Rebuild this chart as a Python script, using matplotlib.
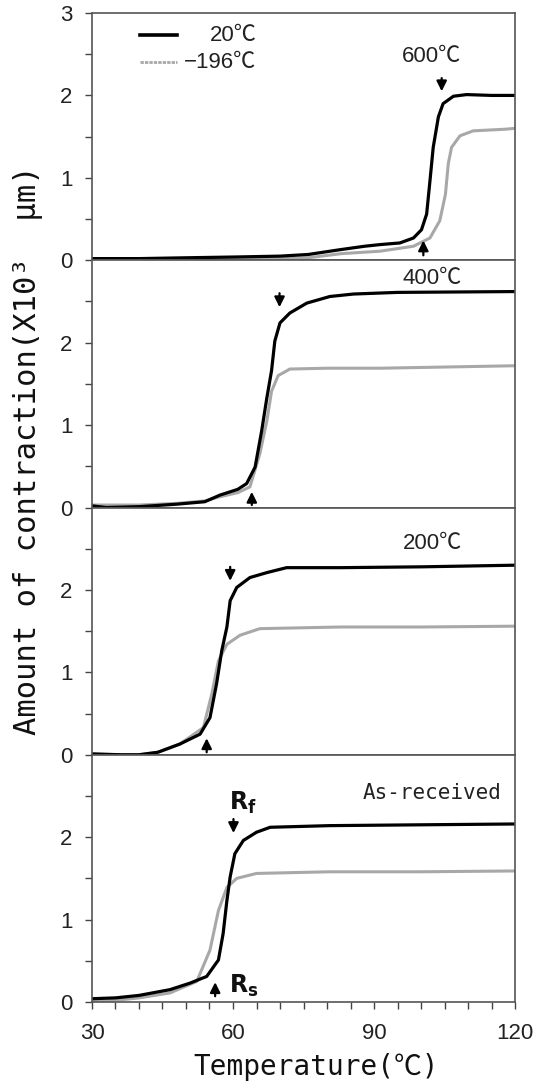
import matplotlib
matplotlib.use("Agg")
import matplotlib.pyplot as plt
import numpy as np

# ---- data (temperature in degC, contraction in x10^3 um) ----
panel_labels = ["600℃", "400℃", "200℃", "As-received"]
legend_labels = ["20℃", "−196℃"]

# Panel 1: 600C
p1_black_t = [30, 40, 50, 61, 70, 76, 83, 88, 91.3, 95.5, 98.4, 100.1, 101.2, 101.9, 102.6, 103.7, 104.7, 106.9, 109.7, 115, 120]
p1_black_y = [0.02, 0.02, 0.03, 0.04, 0.05, 0.07, 0.13, 0.17, 0.19, 0.21, 0.27, 0.37, 0.56, 0.96, 1.37, 1.74, 1.90, 1.99, 2.01, 2.0, 2.0]
p1_grey_t = [30, 45, 60, 70, 76, 83, 91.3, 98.4, 101.9, 104.0, 105.2, 105.8, 106.5, 108.3, 111.1, 117.9, 120]
p1_grey_y = [0.01, 0.01, 0.01, 0.02, 0.03, 0.08, 0.11, 0.17, 0.27, 0.48, 0.80, 1.17, 1.37, 1.51, 1.57, 1.59, 1.60]

# Panel 2: 400C
p2_black_t = [30, 33, 40, 48, 54, 57.2, 61, 62.9, 64.7, 66.1, 67.2, 68.2, 68.9, 70.0, 72.1, 75.7, 80.6, 85.6, 95, 120]
p2_black_y = [0.02, 0.0, 0.01, 0.04, 0.07, 0.15, 0.22, 0.29, 0.49, 0.93, 1.33, 1.66, 2.02, 2.24, 2.36, 2.48, 2.56, 2.59, 2.61, 2.62]
p2_grey_t = [30, 40, 48, 54, 57.2, 61, 63.6, 65.7, 67.2, 68.2, 69.6, 72.1, 80, 91.3, 120]
p2_grey_y = [0.03, 0.03, 0.05, 0.08, 0.13, 0.18, 0.25, 0.65, 1.05, 1.41, 1.60, 1.68, 1.69, 1.69, 1.72]

# Panel 3: 200C
p3_black_t = [30, 36, 40, 44, 48.7, 53.0, 55.1, 56.5, 57.6, 58.7, 59.4, 60.8, 63.6, 67.2, 71.4, 82.8, 100, 120]
p3_black_y = [0.01, 0.0, 0.0, 0.03, 0.13, 0.25, 0.45, 0.86, 1.26, 1.55, 1.87, 2.03, 2.15, 2.21, 2.27, 2.27, 2.28, 2.30]
p3_grey_t = [30, 36, 40, 44, 48.7, 53.7, 55.5, 56.9, 58.7, 61.5, 65.7, 82.8, 100, 120]
p3_grey_y = [0.01, 0.0, 0.0, 0.03, 0.13, 0.33, 0.74, 1.14, 1.34, 1.45, 1.53, 1.55, 1.55, 1.56]

# Panel 4: As-received
p4_black_t = [30, 35, 40, 46.6, 50.9, 54.4, 56.9, 57.9, 58.7, 59.4, 60.4, 62.2, 65.0, 67.9, 80.6, 100, 120]
p4_black_y = [0.04, 0.05, 0.08, 0.15, 0.23, 0.31, 0.51, 0.83, 1.23, 1.52, 1.80, 1.96, 2.06, 2.12, 2.14, 2.15, 2.16]
p4_grey_t = [30, 35, 40, 46.6, 52.3, 55.1, 56.9, 58.7, 60.8, 65.0, 80.6, 100, 120]
p4_grey_y = [0.01, 0.02, 0.05, 0.11, 0.25, 0.63, 1.11, 1.39, 1.50, 1.56, 1.58, 1.58, 1.59]

# arrows: (temperature, tail y, head y)
arrows = [
    [(104.4, 2.21, 2.05), (100.5, 0.06, 0.24)],
    [(69.9, 2.60, 2.43), (64.0, 0.03, 0.19)],
    [(59.4, 2.28, 2.11), (54.4, 0.03, 0.20)],
    [(60.1, 2.22, 2.05), (56.2, 0.07, 0.24)],
]

black = [(p1_black_t, p1_black_y), (p2_black_t, p2_black_y), (p3_black_t, p3_black_y), (p4_black_t, p4_black_y)]
grey = [(p1_grey_t, p1_grey_y), (p2_grey_t, p2_grey_y), (p3_grey_t, p3_grey_y), (p4_grey_t, p4_grey_y)]

SANS = ['Liberation Sans', 'Noto Sans CJK KR', 'DejaVu Sans']
MONO = ['DejaVu Sans Mono', 'Noto Sans CJK KR', 'DejaVu Sans']
TXT = '#222222'

fig = plt.figure(figsize=(5.38, 10.83), dpi=100)
gs = fig.add_gridspec(4, 1, left=92 / 538, right=515 / 538, top=(1083 - 13) / 1083,
                      bottom=(1083 - 1002) / 1083, hspace=0)
axes = [fig.add_subplot(gs[i]) for i in range(4)]

GREY = '#a8a8a8'
for i, ax in enumerate(axes):
    gt, gy = grey[i]
    bt, by = black[i]
    ax.plot(gt, gy, color=GREY, lw=2.2, solid_joinstyle='round')
    ax.plot(bt, by, color='black', lw=2.3, solid_joinstyle='round')
    ax.set_xlim(30, 120)
    ax.set_ylim(0, 3)
    ax.set_yticks([0, 1, 2, 3] if i == 0 else [0, 1, 2])
    ax.set_yticks([0.5, 1.5, 2.5], minor=True)
    ax.tick_params(axis='y', which='both', direction='out', length=5, width=1.0,
                   colors='#444444', labelcolor=TXT, pad=9, labelsize=16)
    for lab in ax.get_yticklabels():
        lab.set_family(SANS)
    for s in ax.spines.values():
        s.set_color('#555555')
        s.set_linewidth(1.2)
    if i < 3:
        ax.tick_params(axis='x', which='both', bottom=False, labelbottom=False)
    else:
        ax.set_xticks([30, 60, 90, 120])
        ax.set_xticks(np.arange(35, 120, 5), minor=True)
        ax.tick_params(axis='x', which='both', direction='out', length=5, width=1.0,
                       colors='#444444', labelcolor=TXT, pad=10, labelsize=16)
        for lab in ax.get_xticklabels():
            lab.set_family(SANS)
    for (t, y0, y1) in arrows[i]:
        ax.annotate('', xy=(t, y1), xytext=(t, y0),
                    arrowprops=dict(arrowstyle='-|>,head_length=0.6,head_width=0.3',
                                    mutation_scale=10, color='black', lw=1.6,
                                    shrinkA=0, shrinkB=0))
    if i == 0:
        ax.plot([40.3, 48.1], [2.73, 2.73], color='black', lw=2.6)
        ax.plot([40.3, 48.1], [2.40, 2.40], color=GREY, lw=2.0, ls=(0, (1.2, 0.4)))
        ax.text(65.0, 2.73, legend_labels[0], ha='right', va='center', fontsize=16, family=SANS, color=TXT)
        ax.text(65.0, 2.40, legend_labels[1], ha='right', va='center', fontsize=16, family=SANS, color=TXT)

axes[0].text(102.2, 2.47, panel_labels[0], ha='center', va='center', fontsize=16, family=SANS, color=TXT)
axes[1].text(102.4, 2.78, panel_labels[1], ha='center', va='center', fontsize=16, family=SANS, color=TXT)
axes[2].text(102.4, 2.56, panel_labels[2], ha='center', va='center', fontsize=16, family=SANS, color=TXT)
axes[3].text(102.4, 2.53, panel_labels[3], ha='center', va='center', fontsize=15, family=MONO, color=TXT)
axes[3].text(59.2, 2.41, r'$\mathbf{R_f}$', ha='left', va='center', fontsize=17, color='#111111')
axes[3].text(59.2, 0.19, r'$\mathbf{R_s}$', ha='left', va='center', fontsize=17, color='#111111')

fig.text(316 / 538, (1083 - 1067) / 1083, 'Temperature(℃)', ha='center', va='center',
         fontsize=20, family=MONO, color='#111111')
fig.text(28 / 538, (1083 - 450) / 1083, 'Amount of contraction(X10³  μm)', rotation=90,
         ha='center', va='center', fontsize=22, family=MONO, color='#111111')

fig.savefig('out.png', dpi=100)
